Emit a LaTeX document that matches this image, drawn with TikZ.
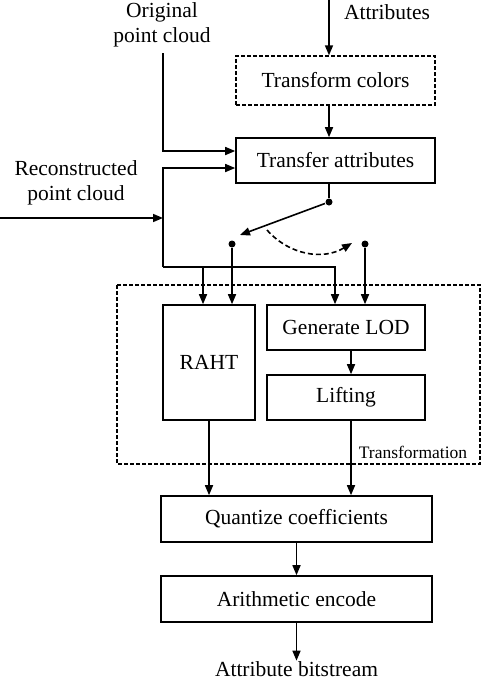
\documentclass[tikz,border=0pt]{standalone}
\usepackage{fontspec}
\setmainfont{Liberation Serif}
\usetikzlibrary{arrows.meta, positioning}
\tikzset{block/.style={draw,line width=1.6pt,minimum width=199pt,minimum height=45pt,inner sep=0pt},
         dblock/.style={block,line width=1.3pt,dash pattern=on 4pt off 2pt},
         txt/.style={align=center,inner sep=0pt},
         sdot/.style={circle,fill,inner sep=0pt,minimum size=7pt},
         >={Triangle[length=10pt,width=8pt]}}

\begin{document}
\begin{tikzpicture}[x=1pt,y=-1pt,line width=1.6pt,font=\fontsize{21.5}{25}\selectfont]
        \useasboundingbox (0,0) rectangle (482,680);
        \node[dblock, minimum height=49pt](tcol)at(335.5,80.5){Transform colors};
        \node[block](tattr)at(335.5,160.5){Transfer attributes};
        \node[block, minimum width=92pt, minimum height=115pt](raht)at(209,362.5){RAHT};
        \node[block, minimum width=158pt](lod)at(346,327.5){Generate LOD};
        \node[block, minimum width=158pt](lift)at(346,397.5){Lifting};
        \node[block, minimum width=271pt, minimum height=46pt](quant)at(296.5,519){Quantize coefficients};
        \node[block, minimum width=271pt, minimum height=46pt](arith)at(296.5,599){Arithmetic encode};
        \draw[line width=1.3pt, dash pattern=on 4pt off 2pt](117,285) rectangle (480,464);

        \node[txt](attr)at(387,12){Attributes};
        \node[txt](orig)at(162,25){Original\\point cloud};
        \node[txt](recon)at(76,183){Reconstructed\\point cloud};
        \node[txt, font=\fontsize{17.5}{20}\selectfont](transf)at(413,452){Transformation};
        \node[txt](bits)at(296.5,669){Attribute bitstream};

        \coordinate(ain)at(329,0);
        \coordinate(otop)at(163,53);
        \coordinate(rin)at(0,218);
        \coordinate(rj)at(163,218);
        \coordinate(bus)at(163,267);
        \node[sdot](s0)at(329,202){};
        \node[sdot](s1)at(232,244){};
        \node[sdot](s2)at(365,244){};
        \coordinate(swtip)at(240,235);

        \draw[->](ain)--(ain|-tcol.north);
        \draw[->](tcol.south-|ain)--(tattr.north-|ain);
        \draw[->](otop)|-([yshift=9.5pt]tattr.west);
        \draw[->](rin)--(rj);
        \draw[->](bus)|-([yshift=-7.5pt]tattr.west);
        \draw[->](bus)-|([xshift=-11pt]lod.north);
        \draw[->]([xshift=-6pt]raht.north|-bus)--([xshift=-6pt]raht.north);
        \draw(tattr.south-|s0)--(s0);
        \draw[->](s0)--(swtip);
        \draw[->, dash pattern=on 5pt off 3pt](267,230) to[bend right=40] (352,243);
        \draw[->](s1)--(s1|-raht.north);
        \draw[->](s2)--(s2|-lod.north);
        \draw[->]([xshift=5pt]lod.south)--([xshift=5pt]lift.north);
        \draw[->](raht.south)--(raht.south|-quant.north);
        \draw[->]([xshift=5pt]lift.south)--([xshift=5pt]lift.south|-quant.north);
        \draw[->](quant)--(arith);
        \draw[->](arith.south)--(arith.south|-bits.north);
    \end{tikzpicture}
\end{document}
